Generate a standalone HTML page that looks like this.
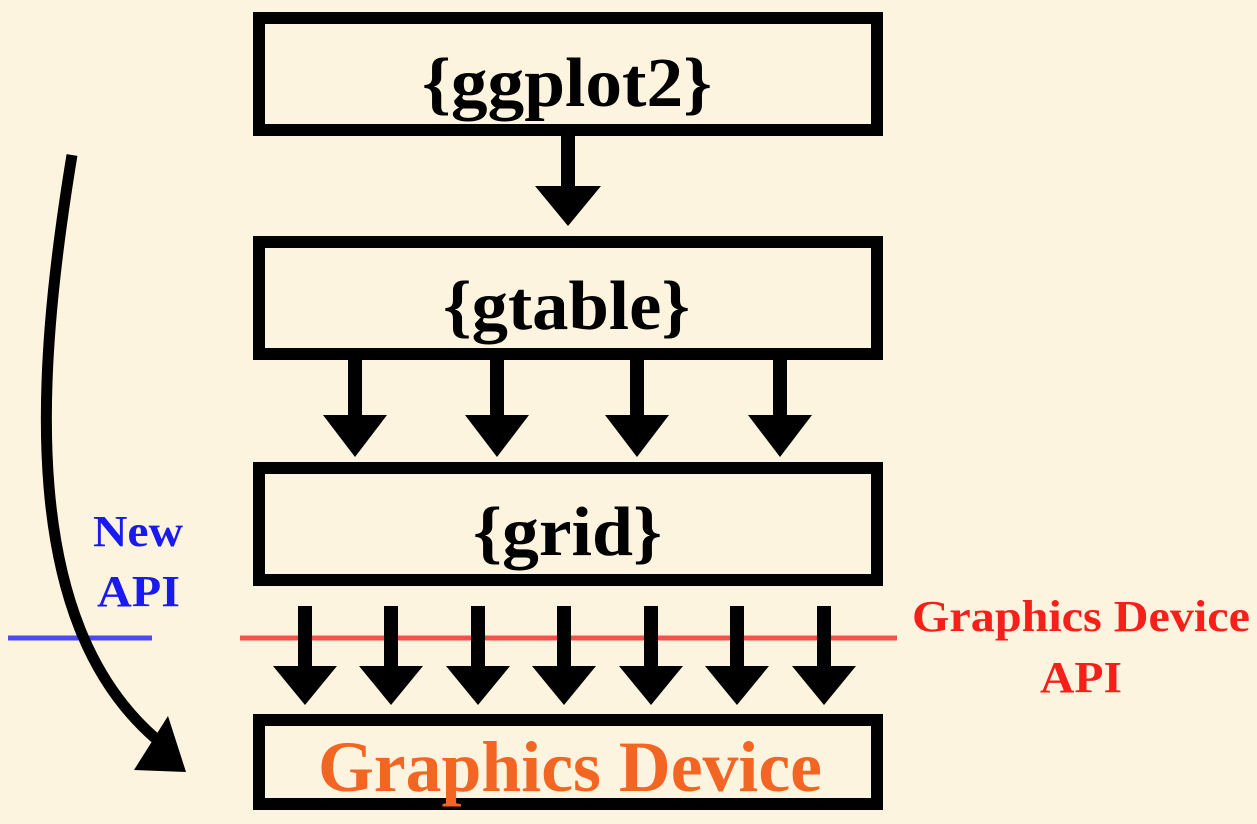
<!DOCTYPE html>
<html><head><style>
html,body{margin:0;padding:0;background:#fdf4e0;}
svg{display:block;}
text{font-family:"Liberation Serif",serif;font-weight:bold;}
</style></head><body>
<svg width="1257" height="824" viewBox="0 0 1257 824" xmlns="http://www.w3.org/2000/svg">
<rect width="1257" height="824" fill="#fdf4e0"/>
<g fill="none" stroke="#000" stroke-width="12">
<rect x="259" y="18" width="618" height="112"/>
<rect x="259" y="242" width="618" height="112"/>
<rect x="259" y="468" width="618" height="112"/>
<rect x="259" y="720" width="618" height="84"/>
</g>
<line x1="8" y1="638" x2="152" y2="638" stroke="#4a4af0" stroke-width="5"/>
<line x1="240" y1="638" x2="897" y2="638" stroke="#f5504a" stroke-width="5"/>
<g fill="#000">
<rect x="561" y="136" width="14" height="52"/><polygon points="535,186 601,186 568,226"/>
<rect x="348" y="360" width="14" height="57"/><polygon points="323,415 387,415 355,457"/>
<rect x="490" y="360" width="14" height="57"/><polygon points="465,415 529,415 497,457"/>
<rect x="630" y="360" width="14" height="57"/><polygon points="605,415 669,415 637,457"/>
<rect x="773" y="360" width="14" height="57"/><polygon points="748,415 812,415 780,457"/>
<rect x="298" y="606" width="14" height="62"/><polygon points="273,666 337,666 305,705"/>
<rect x="384" y="606" width="14" height="62"/><polygon points="359,666 423,666 391,705"/>
<rect x="471" y="606" width="14" height="62"/><polygon points="446,666 510,666 478,705"/>
<rect x="557" y="606" width="14" height="62"/><polygon points="532,666 596,666 564,705"/>
<rect x="644" y="606" width="14" height="62"/><polygon points="619,666 683,666 651,705"/>
<rect x="730" y="606" width="14" height="62"/><polygon points="705,666 769,666 737,705"/>
<rect x="817" y="606" width="14" height="62"/><polygon points="792,666 856,666 824,705"/>
</g>
<path d="M72,155 C 35,380 20,620 155,738" fill="none" stroke="#000" stroke-width="11"/>
<polygon points="186,772 134,770 168,716" fill="#000"/>
<g>
<text x="422" y="106" font-size="70" textLength="290" lengthAdjust="spacingAndGlyphs">{ggplot2}</text>
<text x="443" y="329" font-size="70" textLength="247" lengthAdjust="spacingAndGlyphs">{gtable}</text>
<text x="473" y="555" font-size="70" textLength="189" lengthAdjust="spacingAndGlyphs">{grid}</text>
<text x="318" y="791" font-size="72" fill="#f26522" textLength="504" lengthAdjust="spacingAndGlyphs">Graphics Device</text>
<text x="93" y="546" font-size="44" fill="#1a1aee" textLength="90" lengthAdjust="spacingAndGlyphs">New</text>
<text x="97" y="606" font-size="44" fill="#1a1aee" textLength="83" lengthAdjust="spacingAndGlyphs">API</text>
<text x="912" y="631" font-size="44" fill="#f5201a" textLength="338" lengthAdjust="spacingAndGlyphs">Graphics Device</text>
<text x="1040" y="692" font-size="44" fill="#f5201a" textLength="82" lengthAdjust="spacingAndGlyphs">API</text>
</g>
</svg>
</body></html>
